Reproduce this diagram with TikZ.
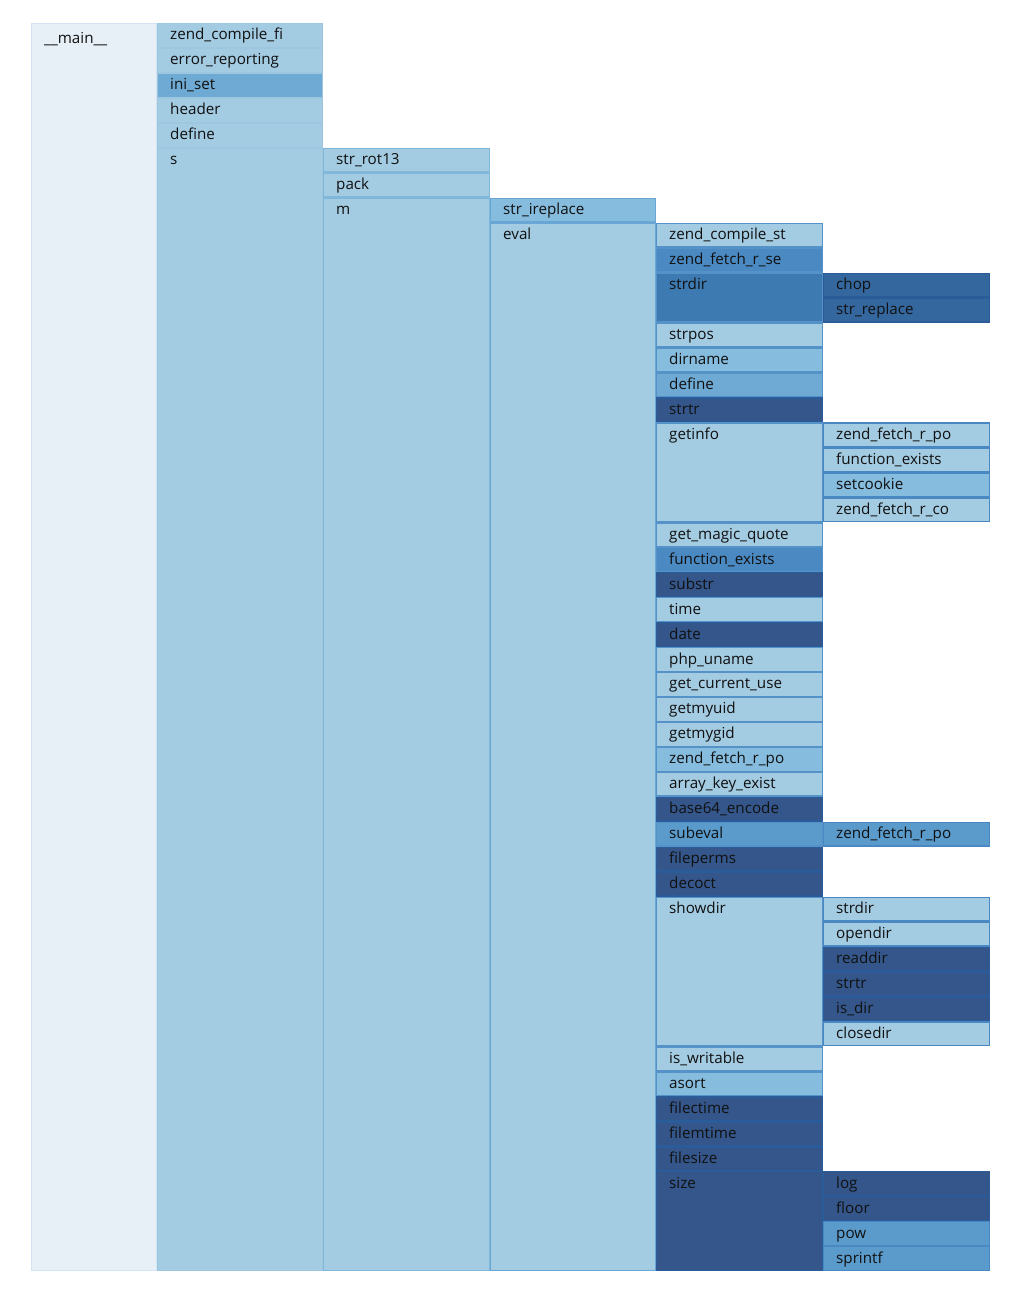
\documentclass[tikz,border=0pt]{standalone}
\usepackage{fontspec}
\setmainfont{Open Sans}
\definecolor{cBg}{HTML}{E7EFF7}
\definecolor{cL}{HTML}{A3CBE2}
\definecolor{cM}{HTML}{86BCDD}
\definecolor{cMb}{HTML}{6FAAD4}
\definecolor{cMc}{HTML}{5A9BCC}
\definecolor{cMd}{HTML}{4A89C2}
\definecolor{cMe}{HTML}{3E7AB2}
\definecolor{cMf}{HTML}{35679F}
\definecolor{cD}{HTML}{34568A}
\definecolor{bA}{HTML}{D3E3F1}
\definecolor{bB}{HTML}{9DC7E0}
\definecolor{bC}{HTML}{80B8DB}
\definecolor{bDd}{HTML}{6AA6D3}
\definecolor{bE}{HTML}{5592C8}
\definecolor{bF}{HTML}{4A88C3}
\definecolor{bDark}{HTML}{2A5C9A}
\definecolor{txt}{HTML}{111111}
\newcommand\flb[8]{%
  \pgfmathsetmacro\ya{23+24.96*#4}%
  \pgfmathsetmacro\yb{23+24.96*(#4+#5)}%
  \draw[draw=#7, fill=#6, line width=1.3pt] (#2+0.65,\ya+0.65) rectangle (#3-0.65,\yb-0.65);
  \node[lbl] (#1) at (#2+13,\ya+17) {#8};
}
\begin{document}
\begin{tikzpicture}[x=1pt,y=-1pt,
  lbl/.style={anchor=base west, inner sep=0pt, font=\fontsize{15.2}{17}\selectfont, text=txt}]
\useasboundingbox (0,0) rectangle (1018,1295);
\fill[white] (0,0) rectangle (1018,1295);
% depth 0
\pgfmathsetmacro\yb{23+24.96*50}
\draw[draw=bA, fill=cBg, line width=1.3pt] (31.65,23.65) rectangle (156.35,\yb-0.65);
\node[lbl] (main) at (44,44) {\_\_main\_\_};
% depth 1
\flb{a1}{157}{323}{0}{1}{cL}{bB}{zend\_compile\_fi}
\flb{a2}{157}{323}{1}{1}{cL}{bB}{error\_reporting}
\flb{a3}{157}{323}{2}{1}{cMb}{bB}{ini\_set}
\flb{a4}{157}{323}{3}{1}{cL}{bB}{header}
\flb{a5}{157}{323}{4}{1}{cL}{bB}{define}
\flb{a6}{157}{323}{5}{45}{cL}{bB}{s}
% depth 2
\flb{b1}{323}{490}{5}{1}{cL}{bC}{str\_rot13}
\flb{b2}{323}{490}{6}{1}{cL}{bC}{pack}
\flb{b3}{323}{490}{7}{43}{cL}{bC}{m}
% depth 3
\flb{c1}{490}{656}{7}{1}{cM}{bDd}{str\_ireplace}
\flb{c2}{490}{656}{8}{42}{cL}{bDd}{eval}
% depth 4
\flb{d1}{656}{823}{8}{1}{cL}{bE}{zend\_compile\_st}
\flb{d2}{656}{823}{9}{1}{cMd}{bE}{zend\_fetch\_r\_se}
\flb{d3}{656}{823}{10}{2}{cMe}{bE}{strdir}
\flb{d4}{656}{823}{12}{1}{cL}{bE}{strpos}
\flb{d5}{656}{823}{13}{1}{cM}{bE}{dirname}
\flb{d6}{656}{823}{14}{1}{cMb}{bE}{define}
\flb{d7}{656}{823}{15}{1}{cD}{bDark}{strtr}
\flb{d8}{656}{823}{16}{4}{cL}{bE}{getinfo}
\flb{d9}{656}{823}{20}{1}{cL}{bE}{get\_magic\_quote}
\flb{d10}{656}{823}{21}{1}{cMd}{bE}{function\_exists}
\flb{d11}{656}{823}{22}{1}{cD}{bDark}{substr}
\flb{d12}{656}{823}{23}{1}{cL}{bE}{time}
\flb{d13}{656}{823}{24}{1}{cD}{bDark}{date}
\flb{d14}{656}{823}{25}{1}{cL}{bE}{php\_uname}
\flb{d15}{656}{823}{26}{1}{cL}{bE}{get\_current\_use}
\flb{d16}{656}{823}{27}{1}{cL}{bE}{getmyuid}
\flb{d17}{656}{823}{28}{1}{cL}{bE}{getmygid}
\flb{d18}{656}{823}{29}{1}{cM}{bE}{zend\_fetch\_r\_po}
\flb{d19}{656}{823}{30}{1}{cL}{bE}{array\_key\_exist}
\flb{d20}{656}{823}{31}{1}{cD}{bDark}{base64\_encode}
\flb{d21}{656}{823}{32}{1}{cMc}{bE}{subeval}
\flb{d22}{656}{823}{33}{1}{cD}{bDark}{fileperms}
\flb{d23}{656}{823}{34}{1}{cD}{bDark}{decoct}
\flb{d24}{656}{823}{35}{6}{cL}{bE}{showdir}
\flb{d25}{656}{823}{41}{1}{cL}{bE}{is\_writable}
\flb{d26}{656}{823}{42}{1}{cM}{bE}{asort}
\flb{d27}{656}{823}{43}{1}{cD}{bDark}{filectime}
\flb{d28}{656}{823}{44}{1}{cD}{bDark}{filemtime}
\flb{d29}{656}{823}{45}{1}{cD}{bDark}{filesize}
\flb{d30}{656}{823}{46}{4}{cD}{bDark}{size}
% depth 5
\flb{e1}{823}{990}{10}{1}{cMf}{bDark}{chop}
\flb{e2}{823}{990}{11}{1}{cMf}{bDark}{str\_replace}
\flb{e3}{823}{990}{16}{1}{cL}{bF}{zend\_fetch\_r\_po}
\flb{e4}{823}{990}{17}{1}{cL}{bF}{function\_exists}
\flb{e5}{823}{990}{18}{1}{cM}{bF}{setcookie}
\flb{e6}{823}{990}{19}{1}{cL}{bF}{zend\_fetch\_r\_co}
\flb{e7}{823}{990}{32}{1}{cMc}{bF}{zend\_fetch\_r\_po}
\flb{e8}{823}{990}{35}{1}{cL}{bF}{strdir}
\flb{e9}{823}{990}{36}{1}{cL}{bF}{opendir}
\flb{e10}{823}{990}{37}{1}{cD}{bDark}{readdir}
\flb{e11}{823}{990}{38}{1}{cD}{bDark}{strtr}
\flb{e12}{823}{990}{39}{1}{cD}{bDark}{is\_dir}
\flb{e13}{823}{990}{40}{1}{cL}{bF}{closedir}
\flb{e14}{823}{990}{46}{1}{cD}{bDark}{log}
\flb{e15}{823}{990}{47}{1}{cD}{bDark}{floor}
\flb{e16}{823}{990}{48}{1}{cMc}{bF}{pow}
\flb{e17}{823}{990}{49}{1}{cMc}{bF}{sprintf}
\end{tikzpicture}
\end{document}
